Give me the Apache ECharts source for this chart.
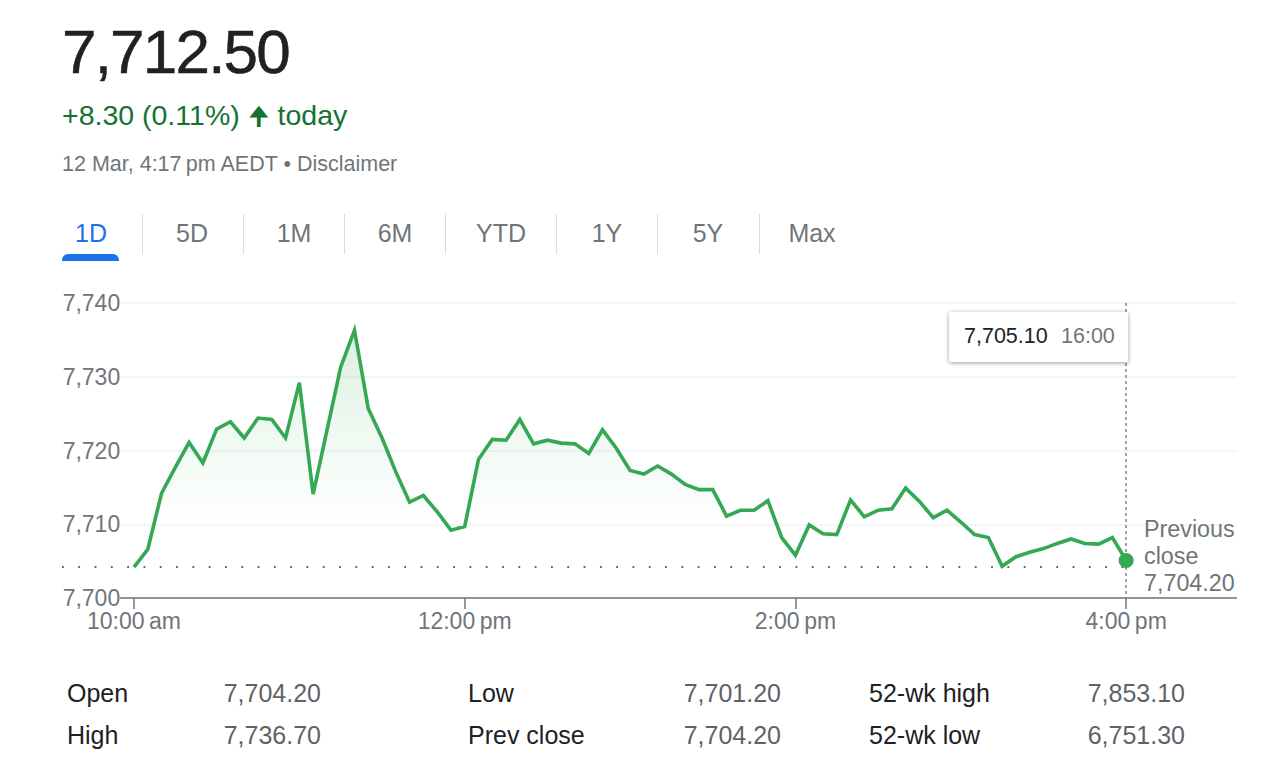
<!DOCTYPE html>
<html>
<head>
<meta charset="utf-8">
<title>7,712.50</title>
<script src="https://cdn.jsdelivr.net/npm/echarts@6/dist/echarts.min.js"></script>
<style>
html,body{margin:0;padding:0;background:#fff;}
body{width:1280px;height:766px;position:relative;overflow:hidden;font-family:"Liberation Sans",Arial,sans-serif;}
#chart{position:absolute;left:0;top:0;width:1280px;height:766px;}
.t{position:absolute;white-space:nowrap;line-height:1;z-index:2;}
.sep{position:absolute;top:214px;width:1px;height:40px;background:#dadce0;z-index:2;}
#price{left:62px;top:21px;font-size:62px;color:#202124;letter-spacing:-1.8px;-webkit-text-stroke:0.5px #202124;}
#change{left:62px;top:101px;font-size:28.5px;color:#137333;}
#stamp{left:62px;top:154px;font-size:21.5px;color:#70757a;}
#underline{position:absolute;left:62px;top:254px;width:57px;height:7px;background:#1a73e8;border-radius:6px 6px 0 0;z-index:2;}
#tip{position:absolute;left:949px;top:312px;width:179px;height:50px;background:#fff;border-radius:2px;box-shadow:0 1px 4px rgba(0,0,0,.4);z-index:2;}
</style>
</head>
<body>
<div id="chart"></div>
<div class="t" id="price">7,712.50</div>
<div class="t" id="change">+8.30 (0.11%) <span style="font-size:26px">&#129033;</span> today</div>
<div class="t" id="stamp">12 Mar, 4:17&#8201;pm AEDT &bull; Disclaimer</div>
<div id="underline"></div>
<div id="tip"></div>
<div class="t" style="left:964px;top:326px;font-size:21.5px;color:#202124">7,705.10</div>
<div class="t" style="left:1061px;top:326px;font-size:21.5px;color:#70757a">16:00</div>
<script>
// 5 minute closes, 10:00 to 16:00
var prices = [7704.2,7706.6,7714.2,7717.7,7721.1,7718.3,7722.9,7723.9,7721.7,7724.4,7724.2,7721.7,7729.2,
    7714.1,7722.7,7731.3,7736.3,7725.7,7721.7,7717.1,7713.0,7713.9,7711.7,7709.2,7709.7,
    7718.8,7721.5,7721.4,7724.2,7720.9,7721.4,7721.0,7720.9,7719.6,7722.8,7720.3,7717.3,
    7716.8,7717.9,7716.8,7715.4,7714.7,7714.7,7711.1,7711.9,7711.9,7713.2,7708.2,7705.8,
    7709.9,7708.7,7708.6,7713.3,7711.0,7711.9,7712.1,7714.9,7713.1,7710.9,7711.9,7710.3,
    7708.6,7708.2,7704.3,7705.6,7706.2,7706.7,7707.4,7708.0,7707.4,7707.3,7708.2,7705.1];
var prevClose = 7704.2;
var tickLabels = {'10:00':'10:00\u2009am','12:00':'12:00\u2009pm','14:00':'2:00\u2009pm','16:00':'4:00\u2009pm'};
var yTicks = {min:7700,max:7740,step:10};
var tabs = ['1D','5D','1M','6M','YTD','1Y','5Y','Max'];
var tabCentres = [91,192,294,395,501,607,708,812];
var tabSeps = [142,243,344,445,556,657,759];
var statLabels = [['Open','High'],['Low','Prev close'],['52-wk high','52-wk low']];
var statValues = [['7,704.20','7,736.70'],['7,701.20','7,704.20'],['7,853.10','6,751.30']];
var statLabelX = [67,468,869];
var statValueRight = [321,781,1185];
var statRowTop = [681,723];

// axis runs from 09:55 to 16:40 so the line starts left of the first point
var times = [];
for(var m = 9*60+55; m <= 16*60+40; m += 5){
    var hh = Math.floor(m/60), mm = m%60;
    times.push((hh<10?'0':'')+hh+':'+(mm<10?'0':'')+mm);
}
// first point sits on 10:00
var lineData = [null].concat(prices);

function addText(txt,css){
    var d = document.createElement('div');
    d.className = 't';
    d.style.cssText = css;
    d.textContent = txt;
    document.body.appendChild(d);
}
tabs.forEach(function(tab,i){
    var col = i==0 ? '#1a73e8' : '#70757a';
    addText(tab,'left:'+(tabCentres[i]-50)+'px;width:100px;text-align:center;top:221px;font-size:25px;color:'+col);
});
tabSeps.forEach(function(x){
    var s = document.createElement('div');
    s.className = 'sep';
    s.style.left = x+'px';
    document.body.appendChild(s);
});
statLabels.forEach(function(col,c){
    col.forEach(function(lab,r){
        addText(lab,'left:'+statLabelX[c]+'px;top:'+statRowTop[r]+'px;font-size:25px;color:#202124');
        addText(statValues[c][r],'right:'+(1280-statValueRight[c])+'px;top:'+statRowTop[r]+'px;font-size:25px;color:#5f6368');
    });
});
addText('Previous','left:1144px;top:518px;font-size:23.3px;color:#70757a');
addText('close','left:1144px;top:545px;font-size:23.3px;color:#70757a');
addText('7,704.20','left:1144px;top:572px;font-size:23.3px;color:#70757a');

var myChart = echarts.init(document.getElementById('chart'),null,{renderer:'svg'});
myChart.setOption({
    animation:false,
    grid:{left:120.2,right:43.6,top:303,bottom:168},
    xAxis:{
        type:'category',
        data:times,
        boundaryGap:false,
        axisLine:{lineStyle:{color:'#70757a',width:1.5}},
        axisTick:{
            length:11,
            lineStyle:{color:'#70757a',width:1.5},
            interval:function(i,v){return !!tickLabels[v];}
        },
        axisLabel:{
            margin:11,
            fontSize:23,
            fontFamily:'Liberation Sans',
            color:'#70757a',
            interval:function(i,v){return !!tickLabels[v];},
            formatter:function(v){return tickLabels[v]||'';}
        },
        splitLine:{show:false}
    },
    yAxis:{
        type:'value',
        min:yTicks.min,
        max:yTicks.max,
        interval:yTicks.step,
        axisLine:{show:false},
        axisTick:{show:false},
        axisLabel:{
            margin:0,
            fontSize:23,
            fontFamily:'Liberation Sans',
            color:'#70757a',
            formatter:function(v){return String(v).replace(/(\d)(\d{3})$/,'$1,$2');}
        },
        splitLine:{lineStyle:{color:'#f1f3f4',width:1.5}}
    },
    series:[{
        type:'line',
        data:lineData,
        symbol:'none',
        connectNulls:false,
        lineStyle:{color:'#34a853',width:3.6,join:'miter'},
        areaStyle:{
            origin:'start',
            color:{type:'linear',x:0,y:0,x2:0,y2:1,colorStops:[
                {offset:0,color:'rgba(52,168,83,0.24)'},
                {offset:0.72,color:'rgba(52,168,83,0)'}
            ]}
        },
        markLine:{
            silent:true,
            symbol:'none',
            label:{show:false},
            data:[
                [{x:62,yAxis:prevClose,lineStyle:{color:'#5f6368',width:2,type:[1.8,14.5]}},{xAxis:'16:00',yAxis:prevClose}],
                [{xAxis:'16:00',yAxis:yTicks.max,lineStyle:{color:'#80868b',width:1.5,type:[3,3]}},{xAxis:'16:00',yAxis:yTicks.min}]
            ]
        },
        markPoint:{
            silent:true,
            symbol:'circle',
            symbolSize:15,
            itemStyle:{color:'#34a853'},
            label:{show:false},
            data:[{coord:['16:00',prices[prices.length-1]]}]
        }
    }]
});
</script>
</body>
</html>
